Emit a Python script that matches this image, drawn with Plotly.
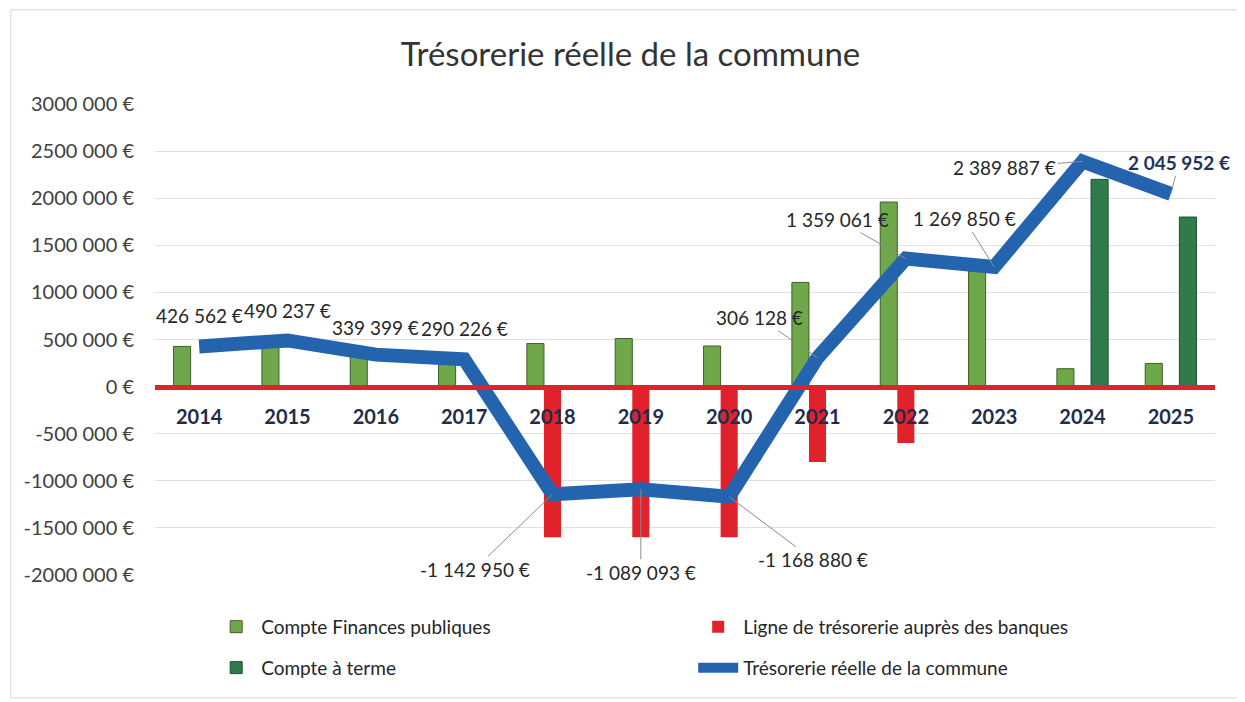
# Trésorerie réelle de la commune - bars per account + total cash line
import plotly.graph_objects as go

years = ["2014", "2015", "2016", "2017", "2018", "2019",
         "2020", "2021", "2022", "2023", "2024", "2025"]

# Compte Finances publiques (light green)
finances_publiques = [426562, 490237, 339399, 290226, 457050, 510907,
                      431120, 1106128, 1959061, 1269850, 189887, 245952]
# Ligne de trésorerie auprès des banques (red, negative)
ligne_tresorerie = [None, None, None, None, -1600000, -1600000,
                    -1600000, -800000, -600000, None, None, None]
# Compte à terme (dark green)
compte_terme = [None, None, None, None, None, None,
                None, None, None, None, 2200000, 1800000]
# Trésorerie réelle de la commune (blue line)
tresorerie = [426562, 490237, 339399, 290226, -1142950, -1089093,
              -1168880, 306128, 1359061, 1269850, 2389887, 2045952]

y_ticks = [3000000, 2500000, 2000000, 1500000, 1000000, 500000, 0,
           -500000, -1000000, -1500000, -2000000]
y_ticktext = ["3000 000 €", "2500 000 €", "2000 000 €", "1500 000 €",
              "1000 000 €", "500 000 €", "0 €", "-500 000 €",
              "-1000 000 €", "-1500 000 €", "-2000 000 €"]

# label offsets (px) for each point of the line, and whether a leader is drawn
label_ax = [0, 0, 0, 0, -78, 0, 84, -58, -68, -30, -78, 8]
label_ay = [-31, -30, -27, -31, 75, 83, 63, -40, -39, -48, 6, -31]
leader = [False, False, False, False, True, True, True, True, True, True, True, True]

LIGHT_GREEN = "#6ea84b"
DARK_GREEN = "#2f7b4b"
RED = "#e2222b"
BLUE = "#2464ae"
FONT = "Lato, 'Open Sans', sans-serif"

Y_MIN, Y_MAX = -2000000, 3000000


def euro(v):
    return f"{v:,}".replace(",", " ") + " €"


fig = go.Figure()
fig.add_trace(go.Bar(
    x=years, y=finances_publiques, name="Compte Finances publiques",
    marker=dict(color=LIGHT_GREEN, line=dict(color="#3d5f2a", width=1)),
))
fig.add_trace(go.Bar(
    x=years, y=ligne_tresorerie, name="Ligne de trésorerie auprès des banques",
    marker=dict(color=RED, line=dict(width=0)),
))
fig.add_trace(go.Bar(
    x=years, y=compte_terme, name="Compte à terme", legend="legend2",
    marker=dict(color=DARK_GREEN, line=dict(color="#234f30", width=1)),
))
fig.add_trace(go.Scatter(
    x=years, y=tresorerie, name="Trésorerie réelle de la commune",
    legend="legend2", mode="lines", line=dict(color=BLUE, width=14),
))

# data labels on the line
# (category index for x: plotly reads "2014" as a serial number on category axes)
for i, v in enumerate(tresorerie):
    last = i == len(years) - 1
    fig.add_annotation(
        x=i, y=v, text=euro(v),
        showarrow=True, arrowhead=0, arrowwidth=1,
        arrowcolor="#8c8c8c" if leader[i] else "rgba(0,0,0,0)",
        ax=label_ax[i], ay=label_ay[i],
        font=dict(family=FONT, size=19,
                  color="#1f3458" if last else "#262626",
                  weight="bold" if last else "normal"),
    )

# x axis sits on the zero line
zero_pos = (0 - Y_MIN) / (Y_MAX - Y_MIN)

legend_style = dict(orientation="h", x=0.053, xanchor="left", yanchor="middle",
                    entrywidth=427, itemwidth=40, traceorder="normal",
                    font=dict(family=FONT, size=19, color="#262626"))

# page body adds an 8px offset, margins are shifted to compensate
fig.update_layout(
    title=dict(text="Trésorerie réelle de la commune", x=0.5, xanchor="center",
               y=0.934, yanchor="middle",
               font=dict(family=FONT, size=33, color="#333333")),
    width=1245, height=702,
    margin=dict(l=147, r=38, t=96, b=135, autoexpand=False),
    plot_bgcolor="white", paper_bgcolor="white",
    barmode="group", bargap=0.42, bargroupgap=0,
    font=dict(family=FONT, size=18, color="#404040"),
    legend=dict(legend_style, y=-0.11),
    legend2=dict(legend_style, y=-0.197),
    showlegend=True,
    shapes=[dict(type="rect", xref="paper", yref="paper",
                 x0=-0.136, x1=1.0236, y0=-0.261, y1=1.2,
                 line=dict(color="#d4d4d4", width=1), layer="below")],
)
fig.update_xaxes(
    type="category", range=[-0.5, len(years) - 0.5], autorange=False,
    anchor="free", position=zero_pos,
    showline=True, linecolor=RED, linewidth=5,
    showgrid=False, ticks="outside", ticklen=10, tickcolor="rgba(0,0,0,0)",
    tickfont=dict(family=FONT, size=20, color="#1f2d4d", weight="bold"),
)
fig.update_yaxes(
    range=[Y_MIN, Y_MAX], autorange=False, tickvals=y_ticks, ticktext=y_ticktext,
    showgrid=True, gridcolor="#e0e0e0", gridwidth=1, zeroline=False,
    ticks="outside", ticklen=16, tickcolor="rgba(0,0,0,0)",
    tickfont=dict(family=FONT, size=20, color="#404040"),
)

fig.write_html("out.html")
